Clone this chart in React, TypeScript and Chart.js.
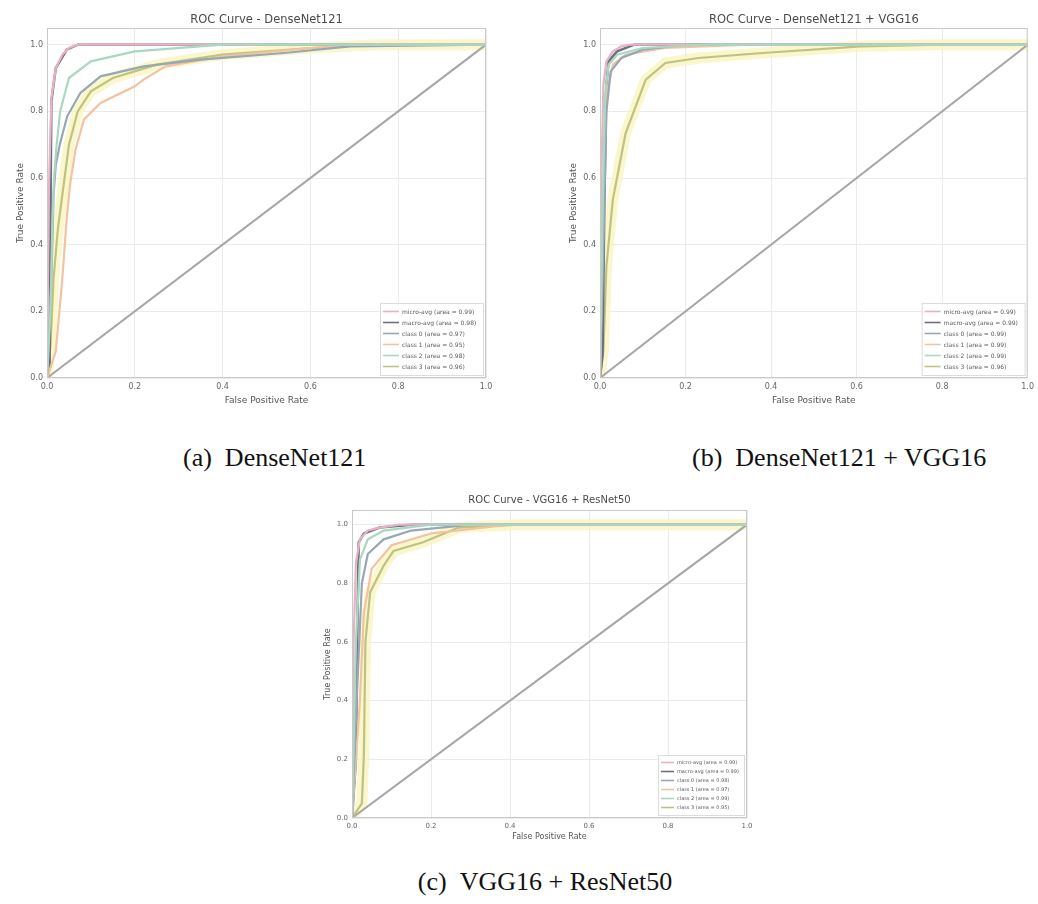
import React, { useEffect, useRef } from "react";
import { Chart, registerables } from "chart.js";

Chart.register(...registerables);

// ---------- shared ----------
const X_TICKS = [0, 0.2, 0.4, 0.6, 0.8, 1.0];
const Y_TICKS = [0, 0.2, 0.4, 0.6, 0.8, 1.0];
const SERIES_NAMES = ["micro-avg", "macro-avg", "class 0", "class 1", "class 2", "class 3"];
const SERIES_COLORS = ["#e7b3c3", "#6e6e84", "#97a7b3", "#f3c2a0", "#a9d8c0", "#bfc283"];
const HALO_COLOR = "rgba(247,244,186,0.75)";
const DIAG_X = [0, 1];
const DIAG_Y = [0, 1];
const X_LABEL = "False Positive Rate";
const Y_LABEL = "True Positive Rate";

// ---------- (a) DenseNet121 ----------
const A_TITLE = "ROC Curve - DenseNet121";
const A_CAPTION = "(a)\u00a0\u00a0DenseNet121";
const A_AUC = [0.99, 0.98, 0.97, 0.95, 0.98, 0.96];
const A_FPR = [
  [0, 0.004, 0.01, 0.02, 0.035, 0.05, 0.07, 1],
  [0, 0.006, 0.008, 0.01, 0.02, 0.045, 0.07, 1],
  [0, 0.01, 0.015, 0.02, 0.03, 0.046, 0.076, 0.122, 0.22, 0.35, 0.54, 0.69, 1],
  [0, 0.02, 0.035, 0.045, 0.053, 0.065, 0.084, 0.122, 0.2, 0.22, 0.27, 0.4, 0.6, 0.75, 1],
  [0, 0.008, 0.012, 0.016, 0.022, 0.03, 0.05, 0.1, 0.2, 0.4, 1],
  [0, 0.008, 0.015, 0.025, 0.035, 0.05, 0.07, 0.1, 0.15, 0.25, 0.4, 0.6, 0.75, 1],
];
const A_TPR = [
  [0, 0.55, 0.84, 0.93, 0.97, 0.99, 1, 1],
  [0, 0.03, 0.5, 0.83, 0.93, 0.985, 1, 1],
  [0, 0.3, 0.55, 0.64, 0.705, 0.785, 0.855, 0.905, 0.935, 0.955, 0.975, 0.995, 1],
  [0, 0.08, 0.3, 0.48, 0.585, 0.685, 0.775, 0.825, 0.875, 0.895, 0.935, 0.965, 0.99, 1, 1],
  [0, 0.2, 0.45, 0.6, 0.7, 0.8, 0.9, 0.95, 0.98, 1, 1],
  [0, 0.1, 0.3, 0.45, 0.55, 0.7, 0.8, 0.86, 0.9, 0.94, 0.97, 0.99, 1, 1],
];

// ---------- (b) DenseNet121 + VGG16 ----------
const B_TITLE = "ROC Curve - DenseNet121 + VGG16";
const B_CAPTION = "(b)\u00a0\u00a0DenseNet121 + VGG16";
const B_AUC = [0.99, 0.99, 0.99, 0.99, 0.99, 0.96];
const B_FPR = [
  [0, 0.003, 0.008, 0.015, 0.03, 0.05, 0.07, 1],
  [0, 0.006, 0.01, 0.015, 0.02, 0.04, 0.08, 1],
  [0, 0.008, 0.015, 0.025, 0.05, 0.1, 0.2, 1],
  [0, 0.008, 0.015, 0.03, 0.06, 0.15, 0.35, 1],
  [0, 0.006, 0.012, 0.02, 0.04, 0.1, 0.25, 1],
  [0, 0.008, 0.015, 0.03, 0.06, 0.107, 0.153, 0.23, 0.38, 0.61, 0.8, 1],
];
const B_TPR = [
  [0, 0.6, 0.88, 0.95, 0.98, 0.995, 1, 1],
  [0, 0.07, 0.5, 0.88, 0.95, 0.98, 1, 1],
  [0, 0.4, 0.8, 0.92, 0.96, 0.985, 1, 1],
  [0, 0.5, 0.85, 0.94, 0.97, 0.99, 1, 1],
  [0, 0.5, 0.85, 0.94, 0.97, 0.99, 1, 1],
  [0, 0.085, 0.335, 0.535, 0.735, 0.895, 0.945, 0.96, 0.975, 0.995, 1, 1],
];

// ---------- (c) VGG16 + ResNet50 ----------
const C_TITLE = "ROC Curve - VGG16 + ResNet50";
const C_CAPTION = "(c)\u00a0\u00a0VGG16 + ResNet50";
const C_AUC = [0.99, 0.99, 0.98, 0.97, 0.99, 0.95];
const C_FPR = [
  [0, 0.004, 0.01, 0.02, 0.04, 0.07, 0.12, 1],
  [0, 0.01, 0.013, 0.017, 0.03, 0.07, 0.15, 1],
  [0, 0.015, 0.025, 0.04, 0.08, 0.15, 0.3, 1],
  [0, 0.02, 0.03, 0.05, 0.1, 0.2, 0.4, 1],
  [0, 0.01, 0.02, 0.04, 0.08, 0.2, 1],
  [0, 0.025, 0.03, 0.034, 0.046, 0.08, 0.105, 0.18, 0.27, 0.42, 1],
];
const C_TPR = [
  [0, 0.6, 0.87, 0.95, 0.98, 0.99, 1, 1],
  [0, 0.2, 0.6, 0.94, 0.97, 0.99, 1, 1],
  [0, 0.5, 0.8, 0.9, 0.95, 0.98, 1, 1],
  [0, 0.4, 0.7, 0.85, 0.93, 0.97, 1, 1],
  [0, 0.6, 0.88, 0.95, 0.98, 1, 1],
  [0, 0.05, 0.21, 0.6, 0.77, 0.86, 0.91, 0.94, 0.99, 1, 1],
];

type Spec = {
  title: string;
  fpr: number[][];
  tpr: number[][];
  auc: number[];
  left: number;
  top: number;
  width: number;
  height: number;
  yAxisW: number;
  xAxisH: number;
  padTop: number;
  padRight: number;
  titleY: number;
  titleFont: number;
  tickFont: number;
  labelFont: number;
  xTitlePad: number;
  yTitlePad: number;
  legendFont: number;
  legendRow: number;
  legendW: number;
  handle: number;
};

const FONT = '"DejaVu Sans", sans-serif';

function RocChart({ spec }: { spec: Spec }) {
  const ref = useRef<HTMLCanvasElement | null>(null);
  useEffect(() => {
    if (!ref.current) return;
    const pts = (xs: number[], ys: number[]) => xs.map((x, i) => ({ x, y: ys[i] }));
    const labels = SERIES_NAMES.map((n, i) => `${n} (area = ${spec.auc[i].toFixed(2)})`);
    const datasets: any[] = [];
    datasets.push({
      label: "_band",
      data: pts(spec.fpr[5], spec.tpr[5]),
      borderColor: HALO_COLOR,
      borderWidth: 11,
      pointRadius: 0,
      fill: false,
      order: 20,
      borderJoinStyle: "round",
      borderCapStyle: "round",
    });
    datasets.push({
      label: "_diag",
      data: pts(DIAG_X, DIAG_Y),
      borderColor: "#a6a6a6",
      borderWidth: 2,
      pointRadius: 0,
      fill: false,
      order: 15,
    });
    const drawOrder = [1, 4, 2, 3, 0, 5];
    SERIES_NAMES.forEach((_, i) => {
      datasets.push({
        label: labels[i],
        data: pts(spec.fpr[i], spec.tpr[i]),
        borderColor: SERIES_COLORS[i],
        borderWidth: i === 1 ? 2.5 : 2.2,
        pointRadius: 0,
        fill: false,
        order: drawOrder[i],
      });
    });

    const deco = {
      id: "deco",
      afterDraw(chart: any) {
        const { ctx, chartArea: ca } = chart;
        ctx.save();
        ctx.strokeStyle = "#c9c9c9";
        ctx.lineWidth = 1;
        ctx.strokeRect(ca.left + 0.5, ca.top + 0.5, ca.right - ca.left - 1, ca.bottom - ca.top - 1);
        ctx.fillStyle = "#4a4a4a";
        ctx.font = `${spec.titleFont}px ${FONT}`;
        ctx.textAlign = "center";
        ctx.textBaseline = "middle";
        ctx.fillText(spec.title, (ca.left + ca.right) / 2, spec.titleY);
        const n = labels.length;
        const h = spec.legendRow * n + 6;
        const w = spec.legendW;
        const x0 = ca.right - w - 3;
        const y0 = ca.bottom - h - 3;
        ctx.fillStyle = "rgba(255,255,255,0.9)";
        ctx.fillRect(x0, y0, w, h);
        ctx.strokeStyle = "#dcdcdc";
        ctx.strokeRect(x0 + 0.5, y0 + 0.5, w, h);
        ctx.font = `${spec.legendFont}px ${FONT}`;
        ctx.textAlign = "left";
        labels.forEach((lab, i) => {
          const cy = y0 + 3 + spec.legendRow * (i + 0.5);
          ctx.strokeStyle = SERIES_COLORS[i];
          ctx.lineWidth = 1.6;
          ctx.beginPath();
          ctx.moveTo(x0 + 3, cy);
          ctx.lineTo(x0 + 3 + spec.handle, cy);
          ctx.stroke();
          ctx.fillStyle = "#5a5a5a";
          ctx.fillText(lab, x0 + spec.handle + 6, cy + 0.5);
        });
        ctx.restore();
      },
    };

    const chart = new Chart(ref.current, {
      type: "line",
      data: { datasets },
      options: {
        responsive: false,
        animation: false,
        parsing: false as any,
        layout: {
          autoPadding: false,
          padding: { top: spec.padTop, right: spec.padRight, left: 0, bottom: 0 },
        },
        plugins: {
          legend: { display: false },
          tooltip: { enabled: false },
          title: { display: false },
        },
        scales: {
          x: {
            type: "linear",
            min: 0,
            max: 1,
            afterBuildTicks: (s: any) => {
              s.ticks = X_TICKS.map((v) => ({ value: v }));
            },
            afterFit: (s: any) => {
              s.height = spec.xAxisH;
            },
            ticks: {
              callback: (v: any) => Number(v).toFixed(1),
              font: { size: spec.tickFont, family: FONT },
              color: "#666",
              padding: 4,
              maxRotation: 0,
            },
            grid: { color: "#ebebeb", drawTicks: false },
            border: { display: false },
            title: {
              display: true,
              text: X_LABEL,
              font: { size: spec.labelFont, family: FONT },
              color: "#555",
              padding: { top: 0, bottom: spec.xTitlePad },
            },
          },
          y: {
            type: "linear",
            min: 0,
            max: 1.05,
            afterBuildTicks: (s: any) => {
              s.ticks = Y_TICKS.map((v) => ({ value: v }));
            },
            afterFit: (s: any) => {
              s.width = spec.yAxisW;
            },
            ticks: {
              callback: (v: any) => Number(v).toFixed(1),
              font: { size: spec.tickFont, family: FONT },
              color: "#666",
              padding: 4,
            },
            grid: { color: "#ebebeb", drawTicks: false },
            border: { display: false },
            title: {
              display: true,
              text: Y_LABEL,
              font: { size: spec.labelFont, family: FONT },
              color: "#555",
              padding: { top: spec.yTitlePad, bottom: 0 },
            },
          },
        },
      },
      plugins: [deco],
    } as any);
    return () => chart.destroy();
  }, [spec]);

  return (
    <canvas
      ref={ref}
      width={spec.width}
      height={spec.height}
      style={{
        position: "absolute",
        left: spec.left,
        top: spec.top,
        width: spec.width,
        height: spec.height,
      }}
    />
  );
}

const SPEC_A: Spec = {
  title: A_TITLE, fpr: A_FPR, tpr: A_TPR, auc: A_AUC,
  left: 8, top: 4, width: 490, height: 412,
  yAxisW: 39, xAxisH: 38, padTop: 24, padRight: 12,
  titleY: 16, titleFont: 11.5, tickFont: 8, labelFont: 9,
  xTitlePad: 10, yTitlePad: 7,
  legendFont: 6, legendRow: 11, legendW: 103, handle: 16,
};

const SPEC_B: Spec = {
  title: B_TITLE, fpr: B_FPR, tpr: B_TPR, auc: B_AUC,
  left: 560, top: 4, width: 478, height: 412,
  yAxisW: 40, xAxisH: 38, padTop: 24, padRight: 3,
  titleY: 16, titleFont: 11.5, tickFont: 8, labelFont: 9,
  xTitlePad: 10, yTitlePad: 8,
  legendFont: 6, legendRow: 11, legendW: 103, handle: 16,
};

const SPEC_C: Spec = {
  title: C_TITLE, fpr: C_FPR, tpr: C_TPR, auc: C_AUC,
  left: 310, top: 484, width: 450, height: 360,
  yAxisW: 42, xAxisH: 26, padTop: 26, padRight: 13,
  titleY: 16, titleFont: 10, tickFont: 7, labelFont: 8,
  xTitlePad: 2, yTitlePad: 13,
  legendFont: 5, legendRow: 9, legendW: 86, handle: 13,
};

const captionStyle: React.CSSProperties = {
  position: "absolute",
  fontFamily: '"Liberation Serif", "Times New Roman", serif',
  fontSize: 26,
  lineHeight: "30px",
  color: "#111",
  whiteSpace: "nowrap",
};

export default function App() {
  return (
    <div style={{ position: "absolute", left: 0, top: 0, width: 1038, height: 904, background: "#fff", overflow: "hidden" }}>
      <RocChart spec={SPEC_A} />
      <RocChart spec={SPEC_B} />
      <RocChart spec={SPEC_C} />
      <div style={{ ...captionStyle, left: 183, top: 443 }}>{A_CAPTION}</div>
      <div style={{ ...captionStyle, left: 692, top: 443 }}>{B_CAPTION}</div>
      <div style={{ ...captionStyle, left: 345, top: 867, width: 400, textAlign: "center" }}>{C_CAPTION}</div>
    </div>
  );
}
